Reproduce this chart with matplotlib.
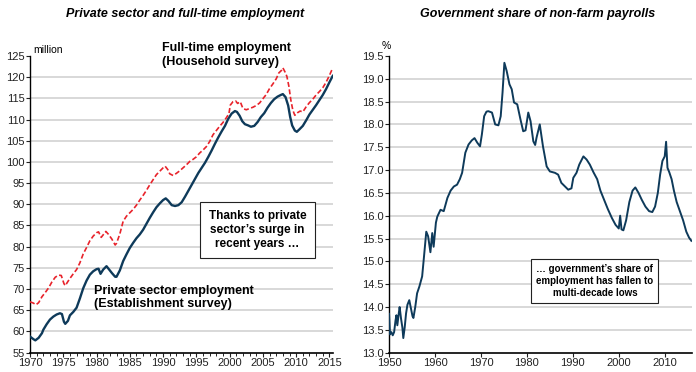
import matplotlib
matplotlib.use("Agg")
import matplotlib.pyplot as plt
from matplotlib.ticker import MultipleLocator

plt.rcParams["font.family"] = ["Liberation Sans", "DejaVu Sans"]

# Private sector payrolls (establishment survey), million
priv_years = [1970.0, 1970.5, 1970.8, 1971.3, 1971.8, 1972.0, 1972.5, 1973.0, 1973.5, 1974.0,
              1974.5, 1974.8, 1975.1, 1975.3, 1975.7, 1976.0, 1976.5, 1977.0, 1977.5, 1978.0,
              1978.5, 1979.0, 1979.5, 1980.0, 1980.3, 1980.6, 1981.0, 1981.5, 1981.8, 1982.3,
              1982.8, 1983.0, 1983.5, 1984.0, 1984.5, 1985.0, 1985.5, 1986.0, 1986.5, 1987.0,
              1987.5, 1988.0, 1988.5, 1989.0, 1989.5, 1990.0, 1990.4, 1990.8, 1991.3, 1991.8,
              1992.3, 1992.8, 1993.3, 1993.8, 1994.3, 1994.8, 1995.3, 1995.8, 1996.3, 1996.8,
              1997.3, 1997.8, 1998.3, 1998.8, 1999.3, 1999.8, 2000.3, 2000.8, 2001.1, 2001.5,
              2001.9, 2002.3, 2002.8, 2003.2, 2003.7, 2004.2, 2004.7, 2005.2, 2005.7, 2006.2,
              2006.7, 2007.2, 2007.7, 2008.0, 2008.4, 2008.8, 2009.1, 2009.4, 2009.8, 2010.1,
              2010.5, 2011.0, 2011.5, 2012.0, 2012.5, 2013.0, 2013.5, 2014.0, 2014.5, 2015.0,
              2015.5]
priv_emp = [58.8, 58.2, 57.9, 58.5, 59.6, 60.4, 61.7, 62.8, 63.5, 64.0,
            64.3, 64.1, 62.3, 61.8, 62.5, 63.8, 64.6, 65.6, 67.8, 70.2,
            72.0, 73.4, 74.2, 74.7, 74.8, 73.6, 74.6, 75.4, 74.8, 73.8,
            72.9, 72.9, 74.4, 76.6, 78.2, 79.7, 80.9, 82.0, 82.9, 84.0,
            85.4, 86.8, 88.1, 89.3, 90.2, 91.0, 91.4, 90.8, 89.8, 89.6,
            89.8, 90.5, 91.8, 93.2, 94.6, 96.0, 97.4, 98.6, 99.8, 101.2,
            102.7, 104.3, 105.8, 107.2, 108.5, 110.2, 111.4, 112.0, 111.8, 110.9,
            109.6, 108.9, 108.6, 108.3, 108.5, 109.4, 110.6, 111.5, 112.8, 113.9,
            114.8, 115.4, 115.8, 116.0, 115.3, 113.3, 110.6, 108.6, 107.4, 107.1,
            107.7, 108.5, 109.8, 111.2, 112.3, 113.4, 114.6, 115.8, 117.2, 118.8,
            120.3]

# Full-time employment (household survey), million
ft_years = [1970.0, 1970.5, 1970.9, 1971.3, 1971.8, 1972.3, 1972.8, 1973.3, 1973.8, 1974.3,
            1974.7, 1975.1, 1975.3, 1975.7, 1976.0, 1976.5, 1977.0, 1977.5, 1978.0, 1978.5,
            1979.0, 1979.5, 1980.0, 1980.3, 1980.7, 1981.0, 1981.4, 1981.8, 1982.3, 1982.8,
            1983.0, 1983.5, 1984.0, 1984.5, 1985.0, 1985.5, 1986.0, 1986.5, 1987.0, 1987.5,
            1988.0, 1988.5, 1989.0, 1989.5, 1990.0, 1990.3, 1990.7, 1991.0, 1991.5, 1992.0,
            1992.5, 1993.0, 1993.5, 1994.0, 1994.5, 1995.0, 1995.5, 1996.0, 1996.5, 1997.0,
            1997.5, 1998.0, 1998.5, 1999.0, 1999.5, 1999.9, 2000.1, 2000.5, 2000.9, 2001.2,
            2001.6, 2002.0, 2002.5, 2003.0, 2003.5, 2004.0, 2004.5, 2005.0, 2005.5, 2006.0,
            2006.5, 2007.0, 2007.4, 2007.8, 2008.0, 2008.3, 2008.6, 2008.9, 2009.2, 2009.5,
            2009.8, 2010.2, 2010.6, 2011.0, 2011.5, 2012.0, 2012.5, 2013.0, 2013.5, 2014.0,
            2014.5, 2015.0, 2015.5]
ft_emp = [67.0, 66.7, 66.3, 66.8, 68.2, 69.2, 70.3, 71.7, 72.8, 73.3,
          73.2, 71.3, 70.8, 71.8, 72.5, 73.6, 74.6, 76.2, 78.3, 79.8,
          81.4, 82.5, 83.3, 83.5, 82.2, 82.8, 83.6, 82.9, 81.8, 80.4,
          80.8, 83.0, 86.0, 87.2, 88.0, 88.8, 89.8, 91.0, 92.1, 93.3,
          94.6, 95.8, 97.0, 97.8, 98.6, 99.0, 98.2, 97.2, 96.8, 97.3,
          97.9, 98.6, 99.3, 100.1, 100.6, 101.2, 102.1, 102.8, 103.6, 104.8,
          106.4, 107.4, 108.4, 109.3, 110.4, 111.4, 113.4, 114.2, 114.4, 113.8,
          114.2, 112.6, 112.3, 112.6, 112.9, 113.3, 113.9, 114.9, 115.9, 117.3,
          118.4, 119.6, 121.0, 121.6, 122.2, 121.3, 120.2, 117.9, 114.6, 112.2,
          111.0, 111.6, 112.0, 111.8, 113.0, 114.0, 114.8, 115.8, 116.6, 117.5,
          118.8, 120.4, 122.2]

# Government share of non-farm payrolls, %
gov_years = [1950.0, 1950.2, 1950.5, 1950.8, 1951.1, 1951.4, 1951.6, 1951.8, 1952.1, 1952.3,
             1952.6, 1952.9, 1953.1, 1953.4, 1953.7, 1954.0, 1954.4, 1954.8, 1955.1, 1955.3,
             1955.7, 1956.1, 1956.6, 1957.2, 1957.6, 1958.1, 1958.5, 1959.0, 1959.4, 1959.7,
             1960.2, 1960.5, 1961.2, 1961.9, 1962.7, 1963.4, 1964.1, 1964.8, 1965.4, 1965.9,
             1966.6, 1967.3, 1968.0, 1968.6, 1969.2, 1969.8, 1970.2, 1970.7, 1971.2, 1971.6,
             1972.4, 1973.1, 1973.8, 1974.3, 1974.7, 1975.1, 1975.6, 1976.2, 1976.7, 1977.2,
             1977.9, 1978.6, 1979.2, 1979.7, 1980.3, 1980.8, 1981.4, 1981.8, 1982.1, 1982.8,
             1983.5, 1984.3, 1985.0, 1986.1, 1986.8, 1987.5, 1988.3, 1989.0, 1989.7, 1990.1,
             1990.8, 1991.4, 1992.3, 1993.0, 1993.7, 1994.5, 1995.3, 1996.0, 1996.8, 1997.6,
             1998.5, 1999.3, 2000.0, 2000.3, 2000.6, 2001.0, 2001.6, 2002.3, 2003.0, 2003.6,
             2004.3, 2005.0, 2005.8, 2006.6, 2007.3, 2007.9, 2008.5, 2009.0, 2009.5, 2010.0,
             2010.3, 2010.6, 2011.0, 2011.5, 2012.0, 2012.6, 2013.3, 2014.0, 2014.7, 2015.3,
             2015.8]
gov_share = [13.85, 13.40, 13.45, 13.38, 13.45, 13.70, 13.82, 13.60, 13.85, 14.00,
             13.75, 13.55, 13.32, 13.55, 13.86, 14.05, 14.15, 13.95, 13.80, 13.76,
             14.00, 14.30, 14.45, 14.67, 15.10, 15.65, 15.55, 15.20, 15.62, 15.32,
             15.85, 15.98, 16.13, 16.10, 16.39, 16.55, 16.64, 16.68, 16.80, 16.94,
             17.38, 17.56, 17.65, 17.70, 17.60, 17.52, 17.78, 18.18, 18.28, 18.29,
             18.26, 18.00, 17.98, 18.18, 18.70, 19.35, 19.17, 18.88, 18.77, 18.48,
             18.44, 18.11, 17.85, 17.87, 18.26, 18.07, 17.63, 17.55, 17.71, 18.00,
             17.52, 17.08, 16.97, 16.94, 16.90, 16.72, 16.64, 16.57, 16.60, 16.83,
             16.94, 17.12, 17.30, 17.23, 17.12, 16.95, 16.80, 16.55, 16.35, 16.15,
             15.95, 15.80, 15.72, 16.00, 15.70, 15.68, 15.90, 16.30, 16.55, 16.62,
             16.50, 16.35, 16.20, 16.10, 16.08, 16.20, 16.50, 16.90, 17.20, 17.30,
             17.62, 17.05, 16.95, 16.80, 16.55, 16.30, 16.10, 15.90, 15.65, 15.52,
             15.45]

left_yticks = list(range(55, 126, 5))
left_xticks = list(range(1970, 2016, 5))
right_yticks = [13.0 + 0.5 * i for i in range(14)]
right_xticks = list(range(1950, 2011, 10))

navy = "#0e3a5a"
red = "#e8232b"
grid = "#d2d2d2"
tick_font = ["Liberation Sans Narrow", "Liberation Sans"]

fig = plt.figure(figsize=(6.96, 3.72), dpi=100)


def style_axes(ax, yticks, xticks, fmt):
    for s in ["top", "right"]:
        ax.spines[s].set_visible(False)
    ax.spines["left"].set_linewidth(1.0)
    ax.spines["bottom"].set_linewidth(1.2)
    ax.set_yticks(yticks)
    ax.set_yticklabels([fmt.format(v) for v in yticks])
    ax.set_xticks(xticks)
    ax.set_xticklabels([str(v) for v in xticks])
    ax.tick_params(axis="both", direction="out", length=3, width=0.8,
                   labelsize=8, pad=1, colors="#222222")
    for lab in ax.get_xticklabels() + ax.get_yticklabels():
        lab.set_family(tick_font)
    ax.hlines(yticks[1:-1], *ax.get_xlim(), colors=grid, lw=1.2, zorder=0)


# left panel
ax1 = fig.add_axes([0.0431, 0.052, 0.435, 0.7976])
ax1.set_xlim(1970, 2015.5)
ax1.set_ylim(55, 125)
style_axes(ax1, left_yticks, left_xticks, "{:d}")
ax1.xaxis.set_minor_locator(MultipleLocator(1))
ax1.tick_params(axis="x", which="minor", direction="out", length=2, width=0.6)
ax1.plot(priv_years, priv_emp, color=navy, lw=1.7, zorder=3)
ax1.plot(ft_years, ft_emp, color=red, lw=1.2, ls=(0, (3, 1.5)), zorder=3)
ax1.text(1970.5, 125.3, "million", fontsize=7.5, va="bottom", ha="left")
ax1.text(1989.8, 125.2, "Full-time employment\n(Household survey)", fontsize=9,
         fontweight="bold", ha="left", va="center", linespacing=1.15, clip_on=False)
ax1.text(1979.6, 68.0, "Private sector employment\n(Establishment survey)", fontsize=9,
         fontweight="bold", ha="left", va="center", linespacing=1.15)
ax1.text(2004.2, 83.9, "Thanks to private\nsector\u2019s surge in\nrecent years \u2026",
         fontsize=8.5, fontweight="bold", ha="center", va="center", linespacing=1.2,
         bbox=dict(boxstyle="square,pad=0.7", fc="white", ec="#222222", lw=0.8), zorder=4)

# right panel
ax2 = fig.add_axes([0.559, 0.052, 0.435, 0.7976])
ax2.set_xlim(1950, 2015.9)
ax2.set_ylim(13.0, 19.5)
style_axes(ax2, right_yticks, right_xticks, "{:.1f}")
ax2.plot(gov_years, gov_share, color=navy, lw=1.4, zorder=3)
ax2.text(1949.3, 19.6, "%", fontsize=7.5, va="bottom", ha="center")
ax2.text(1994.8, 14.57, "\u2026 government\u2019s share of\nemployment has fallen to\nmulti-decade lows",
         fontsize=7, fontweight="bold", ha="center", va="center", linespacing=1.3,
         bbox=dict(boxstyle="square,pad=0.5", fc="white", ec="#222222", lw=0.8), zorder=4)

fig.text(0.266, 0.962, "Private sector and full-time employment", fontsize=9,
         fontweight="bold", style="italic", ha="center", va="center")
fig.text(0.772, 0.962, "Government share of non-farm payrolls", fontsize=9,
         fontweight="bold", style="italic", ha="center", va="center")

fig.savefig("out.png", dpi=100)
